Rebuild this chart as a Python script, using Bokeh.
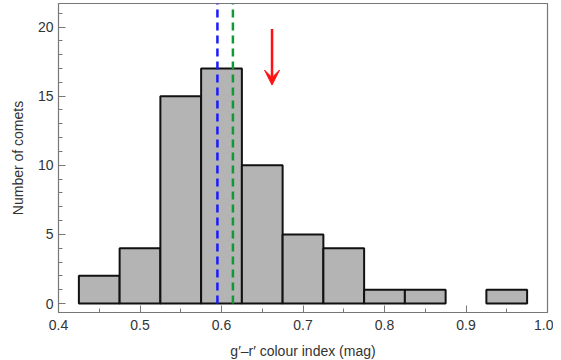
from bokeh.plotting import figure
from bokeh.models import Range1d, FixedTicker, PrintfTickFormatter, Arrow, VeeHead, ColumnDataSource
from bokeh.embed import file_html
from bokeh.resources import INLINE

bin_edges = [0.425, 0.475, 0.525, 0.575, 0.625, 0.675, 0.725, 0.775, 0.825, 0.875, 0.925, 0.975]
counts = [2, 4, 15, 17, 10, 5, 4, 1, 1, 0, 1]
blue_line_x = 0.595
green_line_x = 0.614
arrow_x = 0.662
arrow_y_start = 19.85
arrow_y_end = 15.8
x_ticks = [0.4, 0.5, 0.6, 0.7, 0.8, 0.9, 1.0]
x_minor = [0.45, 0.55, 0.65, 0.75, 0.85, 0.95]
y_ticks = [0, 5, 10, 15, 20]
y_minor = [i for i in range(0, 22) if i % 5 != 0]

FONT = "Liberation Sans"
Y_BOTTOM = -0.65
Y_TOP = 21.7

p = figure(frame_width=489, frame_height=309, output_backend="svg", toolbar_location=None,
           x_range=Range1d(0.4, 1.0), y_range=Range1d(Y_BOTTOM, Y_TOP),
           min_border_left=58, min_border_right=6, min_border_top=3, min_border_bottom=0)
p.grid.visible = False
p.outline_line_color = "#777777"
p.outline_line_width = 1.2
p.background_fill_color = "white"
p.border_fill_color = "white"

left = [bin_edges[i] for i in range(len(counts)) if counts[i] > 0]
right = [bin_edges[i + 1] for i in range(len(counts)) if counts[i] > 0]
top = [c for c in counts if c > 0]
src = ColumnDataSource(dict(left=left, right=right, top=top, bottom=[0] * len(top)))
p.quad(left="left", right="right", top="top", bottom="bottom", source=src,
       fill_color="#b4b4b4", line_color="#111111", line_width=2)

p.segment(x0=[blue_line_x], y0=[0], x1=[blue_line_x], y1=[Y_TOP],
          line_color="#1a1aff", line_width=2.5, line_dash="8 5")
p.segment(x0=[green_line_x], y0=[0], x1=[green_line_x], y1=[Y_TOP],
          line_color="#119933", line_width=2.5, line_dash="8 5")

p.add_layout(Arrow(x_start=arrow_x, y_start=arrow_y_start, x_end=arrow_x, y_end=arrow_y_end,
                   line_color="#ff1111", line_width=2.5,
                   end=VeeHead(size=15, fill_color="#ff1111", line_color="#ff1111", line_width=1)))

for ax in (p.xaxis[0], p.yaxis[0]):
    ax.axis_line_color = None
    ax.major_tick_in = 7
    ax.major_tick_out = 0
    ax.minor_tick_in = 4
    ax.minor_tick_out = 0
    ax.major_tick_line_color = "#777777"
    ax.minor_tick_line_color = "#777777"
    ax.major_label_text_font = FONT
    ax.major_label_text_font_size = "14px"
    ax.major_label_text_color = "#333333"
    ax.axis_label_text_font = FONT
    ax.axis_label_text_font_size = "14px"
    ax.axis_label_text_font_style = "normal"
    ax.axis_label_text_color = "#333333"

p.xaxis.ticker = FixedTicker(ticks=x_ticks, minor_ticks=x_minor)
p.xaxis.formatter = PrintfTickFormatter(format="%.1f")
p.yaxis.ticker = FixedTicker(ticks=y_ticks, minor_ticks=y_minor)
p.xaxis.axis_label = "g\u2032\u2013r\u2032 colour index (mag)"
p.yaxis.axis_label = "Number of comets"
p.xaxis.major_label_standoff = 7
p.yaxis.major_label_standoff = 5
p.xaxis.axis_label_standoff = 10
p.yaxis.axis_label_standoff = 9

open("out.html", "w").write(file_html(p, INLINE))
